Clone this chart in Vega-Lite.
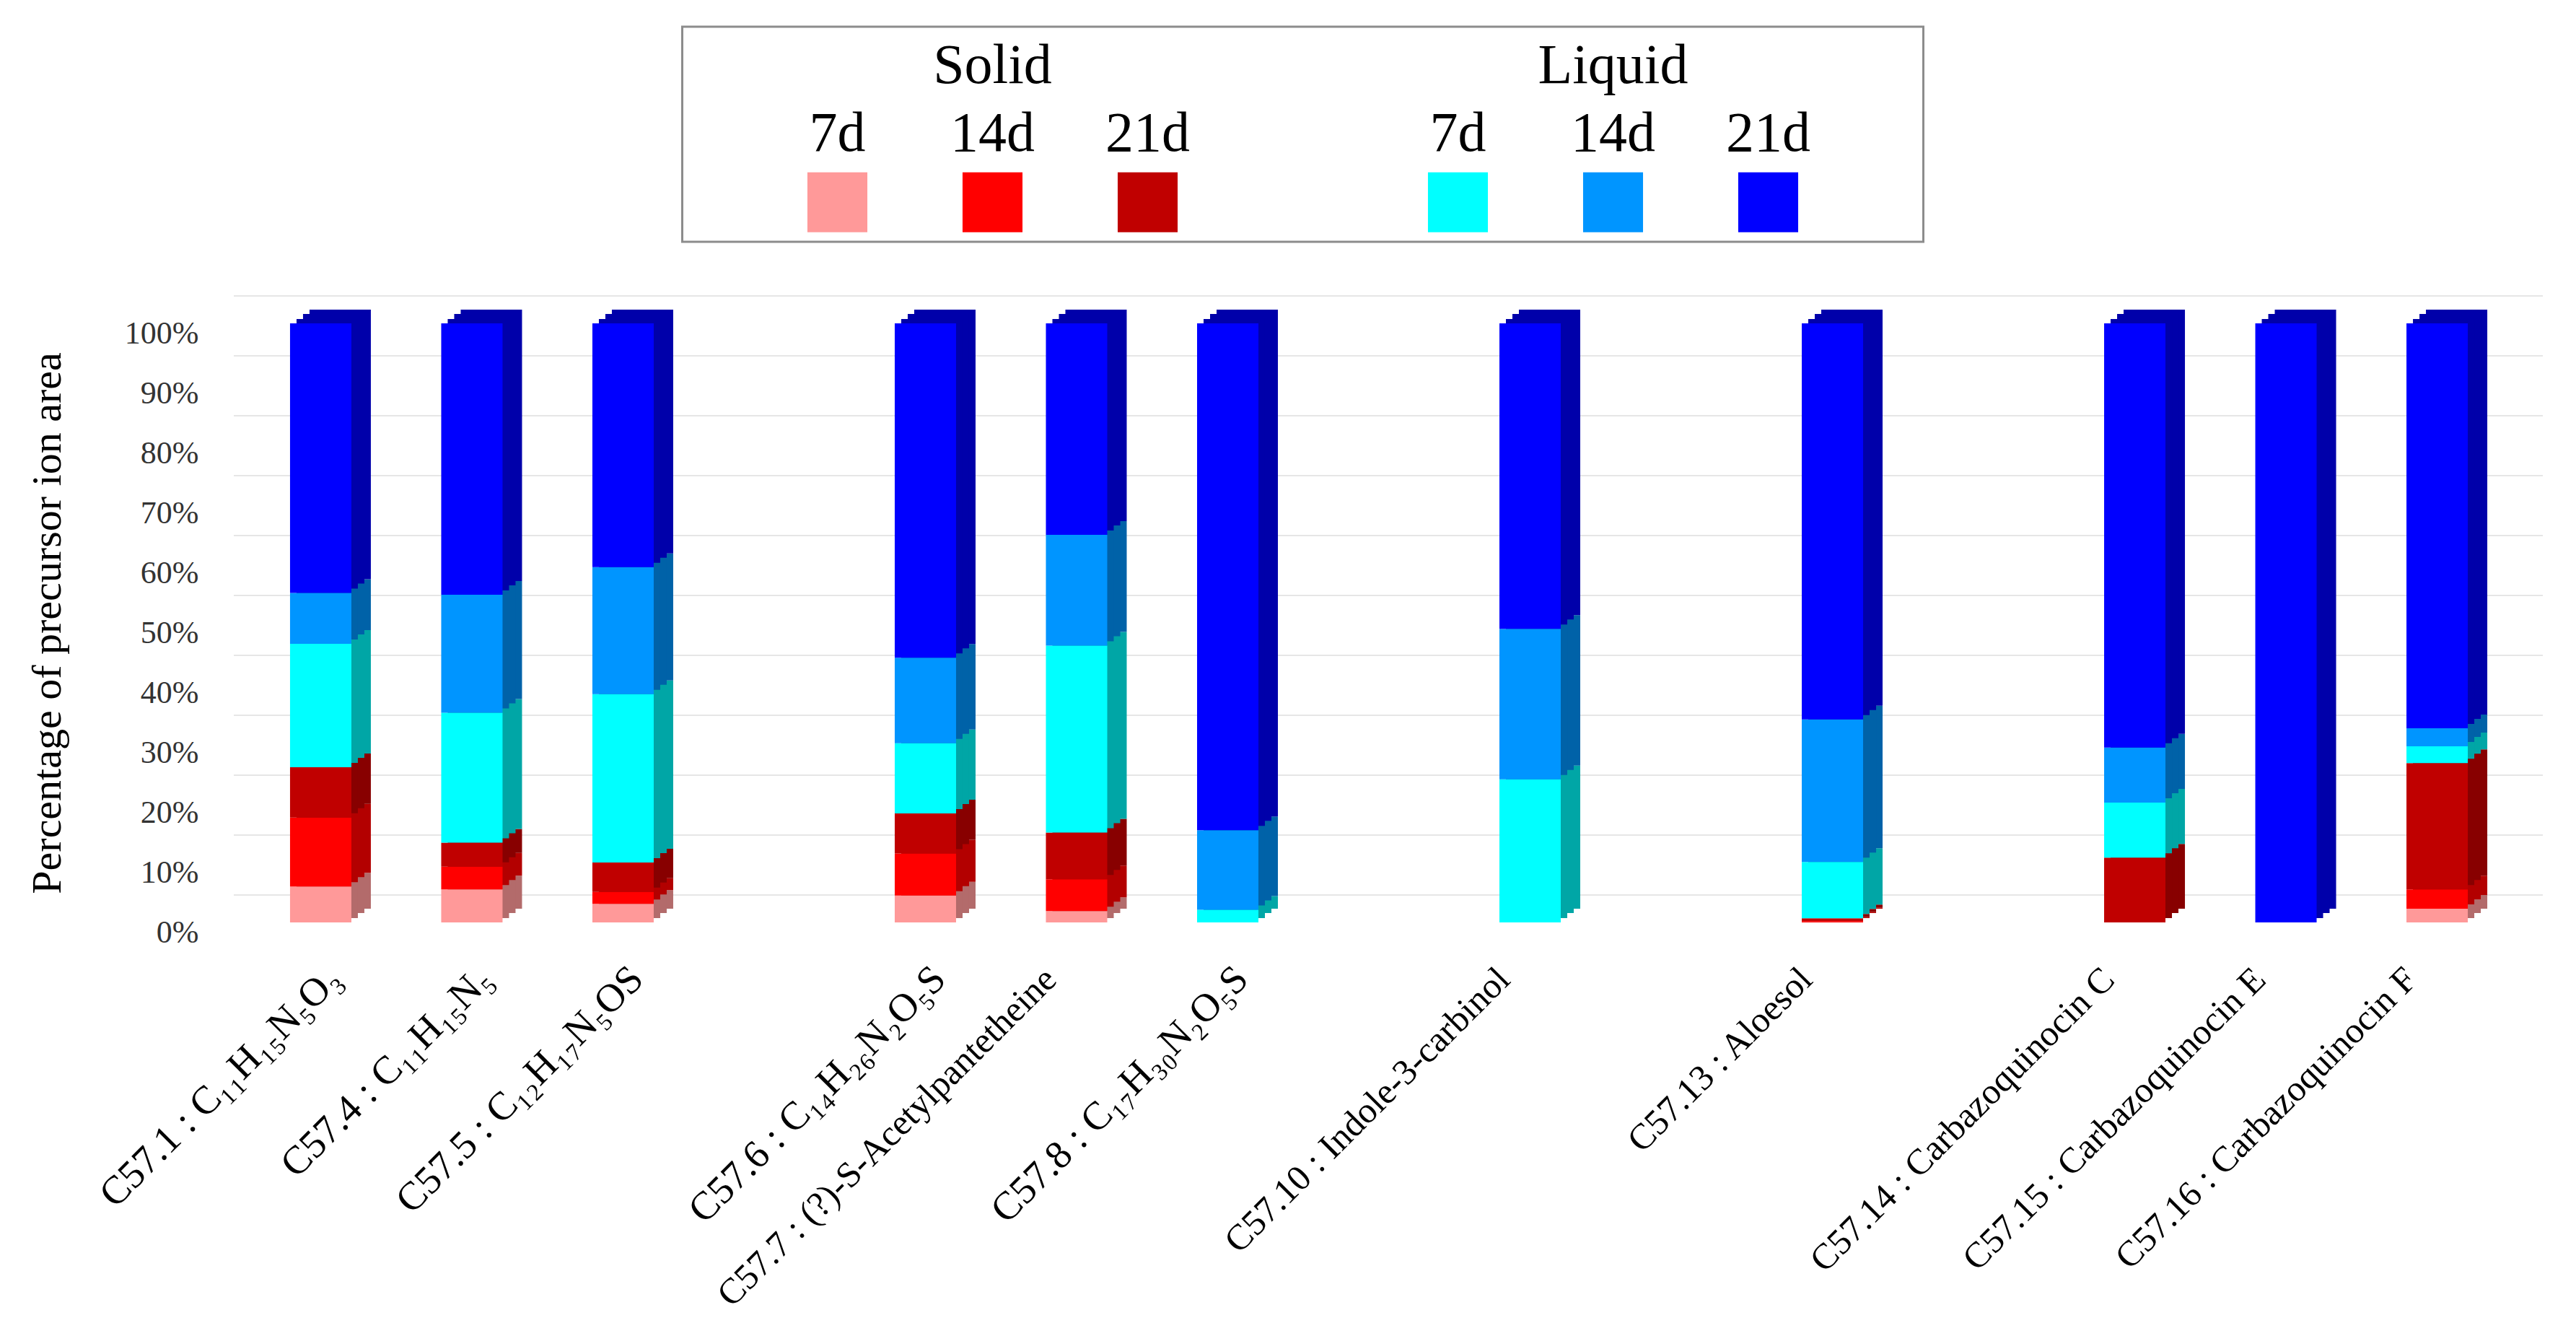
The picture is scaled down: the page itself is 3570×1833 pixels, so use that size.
{
  "$schema": "https://vega.github.io/schema/vega-lite/v6.json",
  "background": "white",
  "padding": {"left": 37, "top": 35, "right": 5, "bottom": 5},
  "config": {"font": "Liberation Serif", "view": {"stroke": null}},
  "spacing": 72,
  "center": true,
  "resolve": {"scale": {"x": "independent", "y": "independent", "color": "independent"}},
  "datasets": {
    "legend": [
      {"series": "Solid 7d", "state": "Solid", "day": "7d"},
      {"series": "Solid 14d", "state": "Solid", "day": "14d"},
      {"series": "Solid 21d", "state": "Solid", "day": "21d"},
      {"series": "Liquid 7d", "state": "Liquid", "day": "7d"},
      {"series": "Liquid 14d", "state": "Liquid", "day": "14d"},
      {"series": "Liquid 21d", "state": "Liquid", "day": "21d"}
    ],
    "grid": [{"v": 0}, {"v": 10}, {"v": 20}, {"v": 30}, {"v": 40}, {"v": 50}, {"v": 60}, {"v": 70}, {"v": 80}, {"v": 90}, {"v": 100}],
    "values": [
      {"compound": "C57.1 : C₁₁H₁₅N₅O₃", "series": "Solid 7d", "k": 1, "pct": 6.0},
      {"compound": "C57.1 : C₁₁H₁₅N₅O₃", "series": "Solid 14d", "k": 2, "pct": 11.5},
      {"compound": "C57.1 : C₁₁H₁₅N₅O₃", "series": "Solid 21d", "k": 3, "pct": 8.4},
      {"compound": "C57.1 : C₁₁H₁₅N₅O₃", "series": "Liquid 7d", "k": 4, "pct": 20.6},
      {"compound": "C57.1 : C₁₁H₁₅N₅O₃", "series": "Liquid 14d", "k": 5, "pct": 8.5},
      {"compound": "C57.1 : C₁₁H₁₅N₅O₃", "series": "Liquid 21d", "k": 6, "pct": 45.0},
      {"compound": "C57.4 : C₁₁H₁₅N₅", "series": "Solid 7d", "k": 1, "pct": 5.5},
      {"compound": "C57.4 : C₁₁H₁₅N₅", "series": "Solid 14d", "k": 2, "pct": 3.8},
      {"compound": "C57.4 : C₁₁H₁₅N₅", "series": "Solid 21d", "k": 3, "pct": 4.0},
      {"compound": "C57.4 : C₁₁H₁₅N₅", "series": "Liquid 7d", "k": 4, "pct": 21.7},
      {"compound": "C57.4 : C₁₁H₁₅N₅", "series": "Liquid 14d", "k": 5, "pct": 19.7},
      {"compound": "C57.4 : C₁₁H₁₅N₅", "series": "Liquid 21d", "k": 6, "pct": 45.3},
      {"compound": "C57.5 : C₁₂H₁₇N₅OS", "series": "Solid 7d", "k": 1, "pct": 3.1},
      {"compound": "C57.5 : C₁₂H₁₇N₅OS", "series": "Solid 14d", "k": 2, "pct": 2.0},
      {"compound": "C57.5 : C₁₂H₁₇N₅OS", "series": "Solid 21d", "k": 3, "pct": 4.9},
      {"compound": "C57.5 : C₁₂H₁₇N₅OS", "series": "Liquid 7d", "k": 4, "pct": 28.1},
      {"compound": "C57.5 : C₁₂H₁₇N₅OS", "series": "Liquid 14d", "k": 5, "pct": 21.2},
      {"compound": "C57.5 : C₁₂H₁₇N₅OS", "series": "Liquid 21d", "k": 6, "pct": 40.7},
      {"compound": "C57.6 : C₁₄H₂₆N₂O₅S", "series": "Solid 7d", "k": 1, "pct": 4.5},
      {"compound": "C57.6 : C₁₄H₂₆N₂O₅S", "series": "Solid 14d", "k": 2, "pct": 7.0},
      {"compound": "C57.6 : C₁₄H₂₆N₂O₅S", "series": "Solid 21d", "k": 3, "pct": 6.7},
      {"compound": "C57.6 : C₁₄H₂₆N₂O₅S", "series": "Liquid 7d", "k": 4, "pct": 11.7},
      {"compound": "C57.6 : C₁₄H₂₆N₂O₅S", "series": "Liquid 14d", "k": 5, "pct": 14.3},
      {"compound": "C57.6 : C₁₄H₂₆N₂O₅S", "series": "Liquid 21d", "k": 6, "pct": 55.8},
      {"compound": "C57.7 : (?)-S-Acetylpantetheine", "series": "Solid 7d", "k": 1, "pct": 1.9},
      {"compound": "C57.7 : (?)-S-Acetylpantetheine", "series": "Solid 14d", "k": 2, "pct": 5.3},
      {"compound": "C57.7 : (?)-S-Acetylpantetheine", "series": "Solid 21d", "k": 3, "pct": 7.8},
      {"compound": "C57.7 : (?)-S-Acetylpantetheine", "series": "Liquid 7d", "k": 4, "pct": 31.2},
      {"compound": "C57.7 : (?)-S-Acetylpantetheine", "series": "Liquid 14d", "k": 5, "pct": 18.5},
      {"compound": "C57.7 : (?)-S-Acetylpantetheine", "series": "Liquid 21d", "k": 6, "pct": 35.3},
      {"compound": "C57.8 : C₁₇H₃₀N₂O₅S", "series": "Solid 7d", "k": 1, "pct": 0},
      {"compound": "C57.8 : C₁₇H₃₀N₂O₅S", "series": "Solid 14d", "k": 2, "pct": 0},
      {"compound": "C57.8 : C₁₇H₃₀N₂O₅S", "series": "Solid 21d", "k": 3, "pct": 0},
      {"compound": "C57.8 : C₁₇H₃₀N₂O₅S", "series": "Liquid 7d", "k": 4, "pct": 2.1},
      {"compound": "C57.8 : C₁₇H₃₀N₂O₅S", "series": "Liquid 14d", "k": 5, "pct": 13.3},
      {"compound": "C57.8 : C₁₇H₃₀N₂O₅S", "series": "Liquid 21d", "k": 6, "pct": 84.6},
      {"compound": "C57.10 : Indole-3-carbinol", "series": "Solid 7d", "k": 1, "pct": 0},
      {"compound": "C57.10 : Indole-3-carbinol", "series": "Solid 14d", "k": 2, "pct": 0},
      {"compound": "C57.10 : Indole-3-carbinol", "series": "Solid 21d", "k": 3, "pct": 0},
      {"compound": "C57.10 : Indole-3-carbinol", "series": "Liquid 7d", "k": 4, "pct": 23.9},
      {"compound": "C57.10 : Indole-3-carbinol", "series": "Liquid 14d", "k": 5, "pct": 25.1},
      {"compound": "C57.10 : Indole-3-carbinol", "series": "Liquid 21d", "k": 6, "pct": 51.0},
      {"compound": "C57.13 : Aloesol", "series": "Solid 7d", "k": 1, "pct": 0},
      {"compound": "C57.13 : Aloesol", "series": "Solid 14d", "k": 2, "pct": 0.2},
      {"compound": "C57.13 : Aloesol", "series": "Solid 21d", "k": 3, "pct": 0.5},
      {"compound": "C57.13 : Aloesol", "series": "Liquid 7d", "k": 4, "pct": 9.4},
      {"compound": "C57.13 : Aloesol", "series": "Liquid 14d", "k": 5, "pct": 23.8},
      {"compound": "C57.13 : Aloesol", "series": "Liquid 21d", "k": 6, "pct": 66.1},
      {"compound": "C57.14 : Carbazoquinocin C", "series": "Solid 7d", "k": 1, "pct": 0},
      {"compound": "C57.14 : Carbazoquinocin C", "series": "Solid 14d", "k": 2, "pct": 0},
      {"compound": "C57.14 : Carbazoquinocin C", "series": "Solid 21d", "k": 3, "pct": 10.8},
      {"compound": "C57.14 : Carbazoquinocin C", "series": "Liquid 7d", "k": 4, "pct": 9.2},
      {"compound": "C57.14 : Carbazoquinocin C", "series": "Liquid 14d", "k": 5, "pct": 9.2},
      {"compound": "C57.14 : Carbazoquinocin C", "series": "Liquid 21d", "k": 6, "pct": 70.8},
      {"compound": "C57.15 : Carbazoquinocin E", "series": "Solid 7d", "k": 1, "pct": 0},
      {"compound": "C57.15 : Carbazoquinocin E", "series": "Solid 14d", "k": 2, "pct": 0},
      {"compound": "C57.15 : Carbazoquinocin E", "series": "Solid 21d", "k": 3, "pct": 0},
      {"compound": "C57.15 : Carbazoquinocin E", "series": "Liquid 7d", "k": 4, "pct": 0},
      {"compound": "C57.15 : Carbazoquinocin E", "series": "Liquid 14d", "k": 5, "pct": 0},
      {"compound": "C57.15 : Carbazoquinocin E", "series": "Liquid 21d", "k": 6, "pct": 100},
      {"compound": "C57.16 : Carbazoquinocin F", "series": "Solid 7d", "k": 1, "pct": 2.3},
      {"compound": "C57.16 : Carbazoquinocin F", "series": "Solid 14d", "k": 2, "pct": 3.2},
      {"compound": "C57.16 : Carbazoquinocin F", "series": "Solid 21d", "k": 3, "pct": 21.1},
      {"compound": "C57.16 : Carbazoquinocin F", "series": "Liquid 7d", "k": 4, "pct": 2.8},
      {"compound": "C57.16 : Carbazoquinocin F", "series": "Liquid 14d", "k": 5, "pct": 3.0},
      {"compound": "C57.16 : Carbazoquinocin F", "series": "Liquid 21d", "k": 6, "pct": 67.6}
    ]
  },
  "vconcat": [
    {
      "spacing": 0,
      "hconcat": [
        {
          "width": 1720,
          "height": 298,
          "view": {"stroke": "#8c8c8c", "strokeWidth": 3},
          "data": {"name": "legend"},
          "encoding": {
            "x": {"field": "series", "type": "nominal",
                  "scale": {"type": "point", "padding": 1, "domain": ["Solid 7d", "Solid 14d", "Solid 21d", "gap", "Liquid 7d", "Liquid 14d", "Liquid 21d"]},
                  "axis": null}
          },
          "layer": [
            {
              "transform": [{"filter": "datum.day == '14d'"}],
              "mark": {"type": "text", "fontSize": 78, "font": "Liberation Serif", "color": "black", "baseline": "middle", "align": "center"},
              "encoding": {
                "y": {"datum": "title", "type": "nominal", "scale": {"type": "point", "domain": ["title", "day", "swatch"], "padding": 0.58}, "axis": null},
                "text": {"field": "state"}
              }
            },
            {
              "mark": {"type": "text", "fontSize": 78, "font": "Liberation Serif", "color": "black", "baseline": "middle", "align": "center"},
              "encoding": {
                "y": {"datum": "day", "type": "nominal", "scale": {"type": "point", "domain": ["title", "day", "swatch"], "padding": 0.58}, "axis": null},
                "text": {"field": "day"}
              }
            },
            {
              "mark": {"type": "square", "size": 6900, "filled": true, "opacity": 1},
              "encoding": {
                "y": {"datum": "swatch", "type": "nominal", "scale": {"type": "point", "domain": ["title", "day", "swatch"], "padding": 0.58}, "axis": null},
                "color": {"field": "series", "type": "nominal",
                          "scale": {"domain": ["Solid 7d", "Solid 14d", "Solid 21d", "Liquid 7d", "Liquid 14d", "Liquid 21d"],
                                    "range": ["#ff9999", "#ff0000", "#c00000", "#00ffff", "#0095ff", "#0000ff"]},
                          "legend": null}
              }
            }
          ]
        },
        {
          "width": 236,
          "height": 298,
          "data": {"values": []},
          "mark": {"type": "point", "opacity": 0},
          "encoding": {}
        }
      ]
    },
    {
      "width": 3200,
      "height": 830,
      "resolve": {"scale": {"color": "independent"}},
      "layer": [
        {
          "data": {"name": "grid"},
          "mark": {"type": "rule", "color": "#e6e6e6", "strokeWidth": 2, "yOffset": -38},
          "encoding": {
            "y": {"field": "v", "type": "quantitative", "scale": {"domain": [0, 100], "nice": false}, "title": "Percentage of precursor ion area"}
          }
        },
        {
          "data": {"name": "values"},
          "mark": {"type": "bar", "width": 85, "xOffset": 14, "yOffset": -19, "y2Offset": -19},
          "encoding": {
            "x": {"field": "compound", "type": "nominal", "sort": null,
                  "scale": {"domain": ["C57.1 : C₁₁H₁₅N₅O₃", "C57.4 : C₁₁H₁₅N₅", "C57.5 : C₁₂H₁₇N₅OS", " ", "C57.6 : C₁₄H₂₆N₂O₅S", "C57.7 : (?)-S-Acetylpantetheine", "C57.8 : C₁₇H₃₀N₂O₅S", "  ", "C57.10 : Indole-3-carbinol", "   ", "C57.13 : Aloesol", "    ", "C57.14 : Carbazoquinocin C", "C57.15 : Carbazoquinocin E", "C57.16 : Carbazoquinocin F"], "paddingInner": 0, "paddingOuter": 0.137}},
            "y": {"field": "pct", "type": "quantitative", "stack": "zero", "title": "Percentage of precursor ion area"},
            "order": {"field": "k", "type": "quantitative"},
            "color": {"field": "series", "type": "nominal",
                      "scale": {"domain": ["Solid 7d", "Solid 14d", "Solid 21d", "Liquid 7d", "Liquid 14d", "Liquid 21d"],
                                "range": ["#b36b6b", "#b30000", "#880000", "#00a6a6", "#0062a8", "#0000aa"]},
                      "legend": null}
          }
        },
        {
          "data": {"name": "values"},
          "mark": {"type": "bar", "width": 85, "xOffset": 5, "yOffset": -13, "y2Offset": -13},
          "encoding": {
            "x": {"field": "compound", "type": "nominal", "sort": null},
            "y": {"field": "pct", "type": "quantitative", "stack": "zero", "title": "Percentage of precursor ion area"},
            "order": {"field": "k", "type": "quantitative"},
            "color": {"field": "series", "type": "nominal",
                      "scale": {"domain": ["Solid 7d", "Solid 14d", "Solid 21d", "Liquid 7d", "Liquid 14d", "Liquid 21d"],
                                "range": ["#b36b6b", "#b30000", "#880000", "#00a6a6", "#0062a8", "#0000aa"]},
                      "legend": null}
          }
        },
        {
          "data": {"name": "values"},
          "mark": {"type": "bar", "width": 85, "xOffset": -4, "yOffset": -6, "y2Offset": -6},
          "encoding": {
            "x": {"field": "compound", "type": "nominal", "sort": null},
            "y": {"field": "pct", "type": "quantitative", "stack": "zero", "title": "Percentage of precursor ion area"},
            "order": {"field": "k", "type": "quantitative"},
            "color": {"field": "series", "type": "nominal",
                      "scale": {"domain": ["Solid 7d", "Solid 14d", "Solid 21d", "Liquid 7d", "Liquid 14d", "Liquid 21d"],
                                "range": ["#b36b6b", "#b30000", "#880000", "#00a6a6", "#0062a8", "#0000aa"]},
                      "legend": null}
          }
        },
        {
          "data": {"name": "values"},
          "mark": {"type": "bar", "width": 85, "xOffset": -13},
          "encoding": {
            "x": {"field": "compound", "type": "nominal", "sort": null,
                  "axis": {"title": null, "labelAngle": -45, "domain": false, "ticks": false, "labelLimit": 1200, "labelOverlap": false,
                           "labelFont": "Liberation Serif", "labelColor": "black",
                           "labelPadding": {"condition": {"test": "indexof(datum.value, 'H') >= 0", "value": 69}, "value": 71},
                           "labelOffset": {"condition": {"test": "indexof(datum.value, 'H') >= 0", "value": 6}, "value": -49},
                           "labelFontSize": {"condition": {"test": "indexof(datum.value, 'H') >= 0", "value": 55}, "value": 50}}},
            "y": {"field": "pct", "type": "quantitative", "stack": "zero", "title": "Percentage of precursor ion area",
                  "axis": {"values": [0, 10, 20, 30, 40, 50, 60, 70, 80, 90, 100], "labelExpr": "datum.value + '%'", "labelFontSize": 44, "labelColor": "#333333", "labelPadding": 49, "labelOffset": 14, "labelFont": "Liberation Serif",
                           "domain": false, "ticks": false, "grid": false,
                           "titleFontSize": 58, "titleFont": "Liberation Serif", "titleFontWeight": "normal", "titleColor": "black", "titlePadding": 77}},
            "order": {"field": "k", "type": "quantitative"},
            "color": {"field": "series", "type": "nominal",
                      "scale": {"domain": ["Solid 7d", "Solid 14d", "Solid 21d", "Liquid 7d", "Liquid 14d", "Liquid 21d"],
                                "range": ["#ff9999", "#ff0000", "#c00000", "#00ffff", "#0095ff", "#0000ff"]},
                      "legend": null}
          }
        }
      ]
    }
  ]
}
